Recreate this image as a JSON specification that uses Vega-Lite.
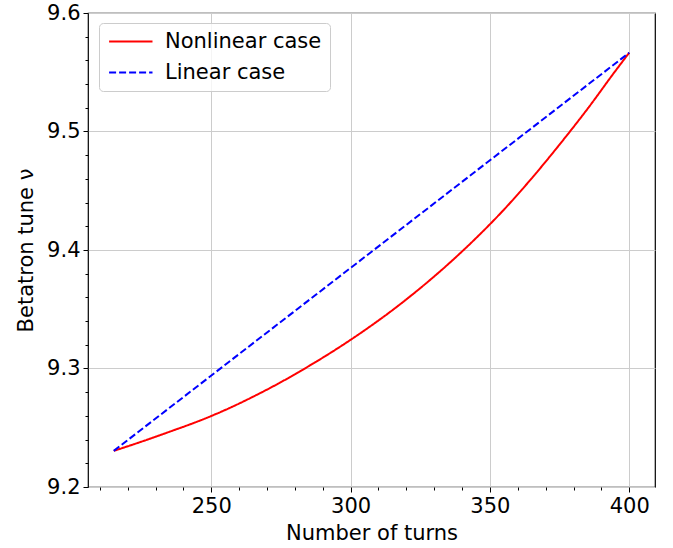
{
  "$schema": "https://vega.github.io/schema/vega-lite/v6.json",
  "width": 567,
  "height": 474,
  "autosize": "none",
  "padding": {"left": 88, "top": 13, "right": 18, "bottom": 61},
  "background": "white",
  "config": {
    "font": "DejaVu Sans",
    "view": {"stroke": "#000000", "strokeWidth": 1.2},
    "axis": {
      "labelFont": "DejaVu Sans", "labelFontSize": 21, "labelColor": "#000000",
      "titleFont": "DejaVu Sans", "titleFontSize": 21, "titleFontWeight": "normal", "titleColor": "#000000",
      "tickColor": "#000000", "tickWidth": 1, "tickSize": 5, "domain": false,
      "gridColor": "#cccccc", "gridWidth": 1, "labelPadding": 3
    },
    "legend": {
      "orient": "none", "legendX": 11, "legendY": 10,
      "symbolType": "M-1.2,0H5", "symbolSize": 196, "symbolStrokeWidth": 2,
      "labelFont": "DejaVu Sans", "labelFontSize": 21, "labelColor": "#000000",
      "labelOffset": 37, "padding": 8, "rowPadding": 9,
      "labelExpr": "datum.label + '\u00a0\u2009\u2009'",
      "fillColor": "rgba(255,255,255,0.8)", "strokeColor": "#cccccc", "cornerRadius": 4
    }
  },
  "datasets": {
    "curves": [
      {"case": "Nonlinear case", "turns": 215, "tune": 9.2305},
      {"case": "Nonlinear case", "turns": 225, "tune": 9.2383},
      {"case": "Nonlinear case", "turns": 235, "tune": 9.2466},
      {"case": "Nonlinear case", "turns": 245, "tune": 9.2552},
      {"case": "Nonlinear case", "turns": 255, "tune": 9.2650},
      {"case": "Nonlinear case", "turns": 265, "tune": 9.2762},
      {"case": "Nonlinear case", "turns": 275, "tune": 9.2885},
      {"case": "Nonlinear case", "turns": 285, "tune": 9.3020},
      {"case": "Nonlinear case", "turns": 295, "tune": 9.3165},
      {"case": "Nonlinear case", "turns": 305, "tune": 9.3322},
      {"case": "Nonlinear case", "turns": 315, "tune": 9.3492},
      {"case": "Nonlinear case", "turns": 325, "tune": 9.3678},
      {"case": "Nonlinear case", "turns": 335, "tune": 9.3880},
      {"case": "Nonlinear case", "turns": 345, "tune": 9.4100},
      {"case": "Nonlinear case", "turns": 355, "tune": 9.4340},
      {"case": "Nonlinear case", "turns": 365, "tune": 9.4605},
      {"case": "Nonlinear case", "turns": 375, "tune": 9.4890},
      {"case": "Nonlinear case", "turns": 385, "tune": 9.5190},
      {"case": "Nonlinear case", "turns": 395, "tune": 9.5510},
      {"case": "Nonlinear case", "turns": 400, "tune": 9.5665},
      {"case": "Linear case", "turns": 215, "tune": 9.2305},
      {"case": "Linear case", "turns": 400, "tune": 9.5665}
    ],
    "minorx": [
      {"turns": 210}, {"turns": 220}, {"turns": 230}, {"turns": 240}, {"turns": 260},
      {"turns": 270}, {"turns": 280}, {"turns": 290}, {"turns": 310}, {"turns": 320},
      {"turns": 330}, {"turns": 340}, {"turns": 360}, {"turns": 370}, {"turns": 380},
      {"turns": 390}
    ],
    "minory": [
      {"tune": 9.22}, {"tune": 9.24}, {"tune": 9.26}, {"tune": 9.28},
      {"tune": 9.32}, {"tune": 9.34}, {"tune": 9.36}, {"tune": 9.38},
      {"tune": 9.42}, {"tune": 9.44}, {"tune": 9.46}, {"tune": 9.48},
      {"tune": 9.52}, {"tune": 9.54}, {"tune": 9.56}, {"tune": 9.58}
    ]
  },
  "layer": [
    {
      "data": {"name": "curves"},
      "mark": {"type": "line", "strokeWidth": 2, "interpolate": "monotone"},
      "encoding": {
        "x": {
          "field": "turns", "type": "quantitative",
          "scale": {"domain": [205.75, 409.25], "nice": false, "zero": false},
          "axis": {"values": [250, 300, 350, 400], "title": "Number of turns", "grid": true, "orient": "bottom", "titlePadding": 6}
        },
        "y": {
          "field": "tune", "type": "quantitative",
          "scale": {"domain": [9.2, 9.6], "nice": false, "zero": false},
          "axis": {"values": [9.2, 9.3, 9.4, 9.5, 9.6], "format": ".1f", "title": "Betatron tune ν", "grid": true, "orient": "left", "titlePadding": 10}
        },
        "color": {
          "field": "case", "type": "nominal",
          "scale": {"domain": ["Nonlinear case", "Linear case"], "range": ["#ff0000", "#0000ff"]},
          "legend": {"title": null}
        },
        "strokeDash": {
          "field": "case", "type": "nominal",
          "scale": {"domain": ["Nonlinear case", "Linear case"], "range": [[1, 0], [7, 3]]},
          "legend": {"title": null}
        }
      }
    },
    {
      "data": {"name": "minorx"},
      "mark": {"type": "point", "opacity": 0},
      "encoding": {
        "x": {
          "field": "turns", "type": "quantitative",
          "scale": {"domain": [205.75, 409.25], "nice": false, "zero": false},
          "axis": {"values": [210, 220, 230, 240, 260, 270, 280, 290, 310, 320, 330, 340, 360, 370, 380, 390], "labels": false, "grid": false, "tickSize": 3, "title": null, "orient": "bottom"}
        }
      }
    },
    {
      "data": {"name": "minory"},
      "mark": {"type": "point", "opacity": 0},
      "encoding": {
        "y": {
          "field": "tune", "type": "quantitative",
          "scale": {"domain": [9.2, 9.6], "nice": false, "zero": false},
          "axis": {"values": [9.22, 9.24, 9.26, 9.28, 9.32, 9.34, 9.36, 9.38, 9.42, 9.44, 9.46, 9.48, 9.52, 9.54, 9.56, 9.58], "labels": false, "grid": false, "tickSize": 3, "title": null, "orient": "left"}
        }
      }
    }
  ],
  "resolve": {"axis": {"x": "independent", "y": "independent"}}
}
